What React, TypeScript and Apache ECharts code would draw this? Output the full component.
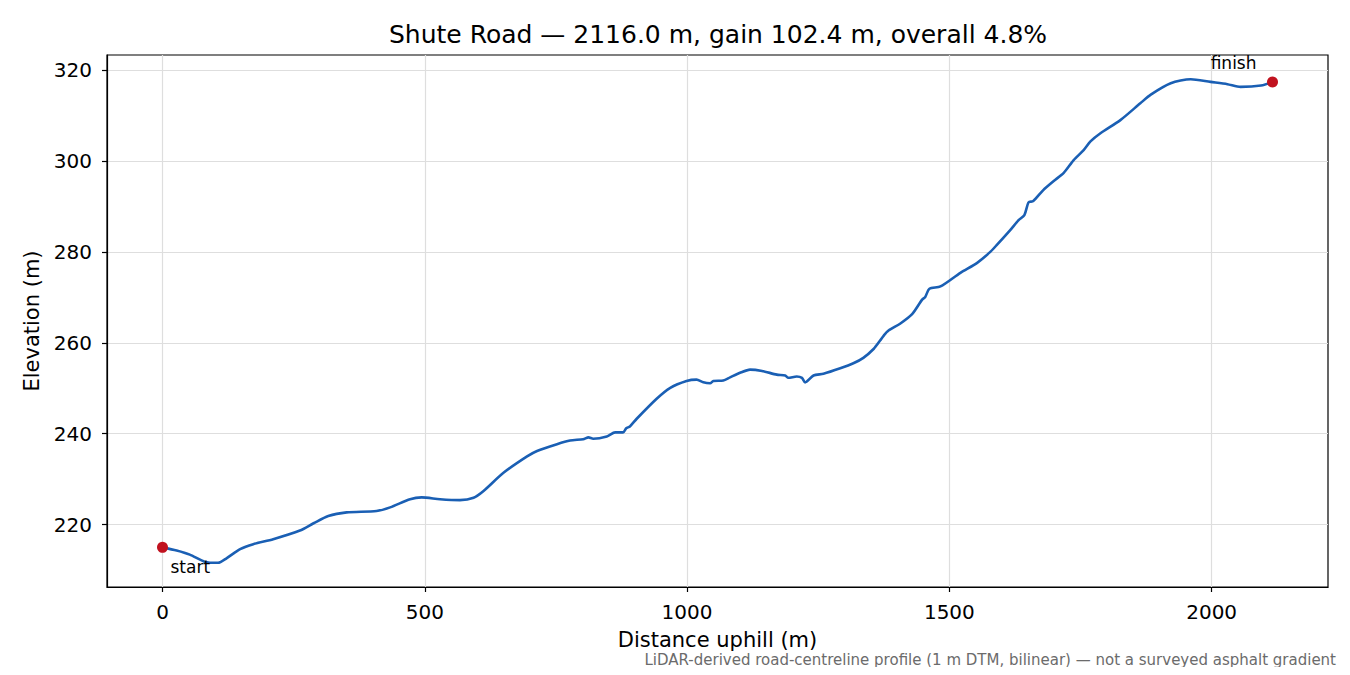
import { useEffect, useRef } from 'react';
import * as echarts from 'echarts';

const TITLE = 'Shute Road — 2116.0 m, gain 102.4 m, overall 4.8%';
const NOTE = 'LiDAR-derived road-centreline profile (1 m DTM, bilinear) — not a surveyed asphalt gradient';

// distance along the road (m)
const distance = [
    0, 27, 52, 81, 106, 122, 148, 173, 211, 262, 288, 316, 351, 408, 434, 472, 494, 529, 567, 593,
    612, 650, 695, 714, 752, 777, 802, 812, 821, 847, 863, 878, 884, 891, 904, 942, 968, 999, 1018, 1031,
    1044, 1050, 1069, 1082, 1101, 1120, 1143, 1171, 1187, 1193, 1209, 1219, 1225, 1241, 1260, 1292, 1317, 1336, 1356, 1368,
    1375, 1384, 1406, 1429, 1448, 1454, 1462, 1483, 1521, 1553, 1578, 1591, 1616, 1632, 1643, 1651, 1660, 1679, 1699, 1718,
    1737, 1756, 1769, 1788, 1826, 1864, 1884, 1922, 1960, 1998, 2030, 2055, 2094, 2116,
];

// elevation (m)
const elevation = [
    215.0, 214.3, 213.4, 211.8, 211.6, 212.6, 214.6, 215.7, 216.8, 218.7, 220.3, 221.9, 222.7, 223.0, 223.8, 225.6, 226.0, 225.6, 225.4, 225.9,
    227.4, 231.4, 235.0, 236.2, 237.7, 238.5, 238.8, 239.2, 238.9, 239.4, 240.3, 240.3, 241.2, 241.6, 243.3, 247.7, 250.1, 251.6, 251.9, 251.3,
    251.1, 251.6, 251.7, 252.4, 253.4, 254.1, 253.8, 253.0, 252.8, 252.3, 252.6, 252.3, 251.3, 252.8, 253.2, 254.4, 255.5, 256.7, 258.7, 260.5,
    261.6, 262.7, 264.2, 266.3, 269.5, 270.1, 271.9, 272.4, 275.4, 277.6, 280.0, 281.6, 284.8, 287.0, 288.1, 290.9, 291.2, 293.6, 295.6, 297.4,
    300.2, 302.4, 304.3, 306.1, 309.0, 312.7, 314.6, 317.1, 318.0, 317.4, 316.9, 316.3, 316.6, 317.4,
];

const endpoints = [
    { name: 'start', d: 0, z: 215.0 },
    { name: 'finish', d: 2116, z: 317.4 },
];

const xTicks = [0, 500, 1000, 1500, 2000];
const yTicks = [220, 240, 260, 280, 300, 320];

const FONT = 'DejaVu Sans';

const App = () => {
    const chartRef = useRef<HTMLDivElement>(null);

    useEffect(() => {
        if (!chartRef.current) return;
        const chart = echarts.init(chartRef.current, null, { renderer: 'svg' });

        // matplotlib style 5% margins
        const dMax = distance[distance.length - 1];
        const zMin = Math.min(...elevation);
        const zMax = Math.max(...elevation);
        const xPad = dMax * 0.05;
        const yPad = (zMax - zMin) * 0.05;

        const axisCommon = {
            axisLine: { show: true, onZero: false, lineStyle: { color: '#000', width: 1.2 } },
            axisTick: { show: true, inside: false, length: 5, lineStyle: { color: '#000', width: 1.2 } },
            splitLine: { show: true, lineStyle: { color: '#dedede', width: 1.2 } },
            nameTextStyle: { color: '#000', fontFamily: FONT, fontSize: 21 },
        };
        const labelStyle = { color: '#000', fontFamily: FONT, fontSize: 20, margin: 15, formatter: (v: number) => String(v) };

        chart.setOption({
            animation: false,
            textStyle: { fontFamily: FONT },
            title: {
                text: TITLE,
                left: 713,
                top: 17,
                textAlign: 'center',
                textStyle: { fontFamily: FONT, fontSize: 25, fontWeight: 'normal', color: '#000' },
            },
            grid: { left: 107, right: 22, top: 55, bottom: 88, show: true, borderColor: '#000', borderWidth: 1.2 },
            xAxis: {
                type: 'value',
                min: -xPad,
                max: dMax + xPad,
                name: 'Distance uphill (m)',
                nameLocation: 'middle',
                nameGap: 42,
                ...axisCommon,
                axisTick: { ...axisCommon.axisTick, customValues: xTicks },
                axisLabel: { ...labelStyle, customValues: xTicks },
            },
            yAxis: {
                type: 'value',
                min: zMin - yPad,
                max: zMax + yPad,
                name: 'Elevation (m)',
                nameLocation: 'middle',
                nameGap: 59,
                ...axisCommon,
                axisTick: { ...axisCommon.axisTick, customValues: yTicks },
                axisLabel: { ...labelStyle, customValues: yTicks },
            },
            series: [
                {
                    type: 'line',
                    data: distance.map((d, i) => [d, elevation[i]]),
                    showSymbol: false,
                    symbol: 'none',
                    smooth: 0.25,
                    lineStyle: { color: '#1a5fb4', width: 2.6 },
                    z: 2,
                },
                {
                    type: 'scatter',
                    symbolSize: 11,
                    itemStyle: { color: '#c1121f', opacity: 1 },
                    z: 3,
                    data: endpoints.map((p, i) => ({
                        value: [p.d, p.z],
                        label: {
                            show: true,
                            formatter: p.name,
                            position: 'inside',
                            align: i === 0 ? 'left' : 'right',
                            verticalAlign: 'middle',
                            offset: i === 0 ? [8, 20] : [-16, -19],
                            color: '#000',
                            fontFamily: FONT,
                            fontSize: 17,
                        },
                    })),
                },
            ],
            graphic: [
                {
                    type: 'text',
                    right: 14,
                    top: 652,
                    style: { text: NOTE, fill: '#6b6b6b', font: `15px "${FONT}"` },
                },
            ],
        });

        return () => {
            chart.dispose();
        };
    }, []);

    return <div ref={chartRef} style={{ width: 1350, height: 675, margin: -8 }} />;
};

export default App;
